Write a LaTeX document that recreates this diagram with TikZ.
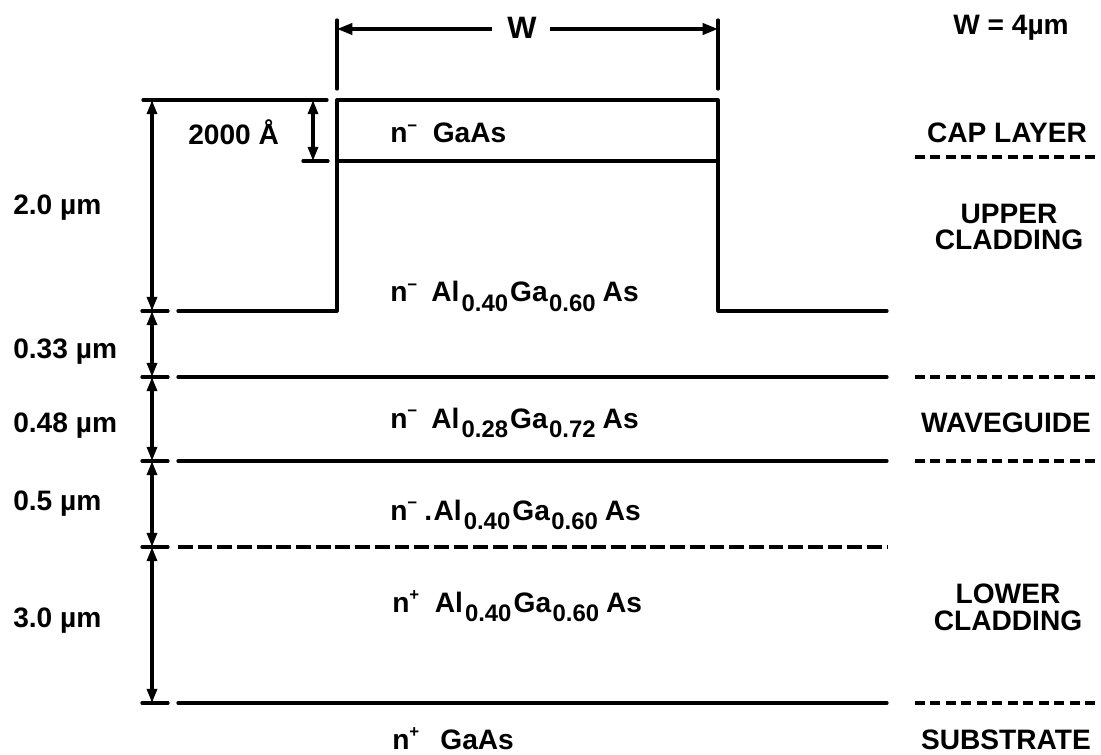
\documentclass[tikz,border=0pt]{standalone}
\usepackage{fontspec}
\setmainfont{Liberation Sans}
\usetikzlibrary{arrows.meta}
\newcommand\lsub[1]{\raisebox{-7pt}{\fontsize{17}{17}\selectfont #1}}
\newcommand\lsup[1]{\raisebox{8pt}{\fontsize{12}{12}\selectfont #1}}
\newcommand\nmin{n\lsup{−}}
\newcommand\nplus{n\lsup{+}}
\tikzset{
  lbl/.style={font=\fontsize{20}{19}\selectfont\bfseries, inner sep=0pt},
  ln/.style={line width=2.3pt, line cap=round, line join=round},
  rdash/.style={line width=2.3pt, line cap=butt, dash pattern=on 7pt off 4pt},
  mdash/.style={line width=2.3pt, line cap=butt, dash pattern=on 10.5pt off 3.5pt},
  dimarr/.style={line width=2.4pt, {Triangle[length=10pt,width=7pt]}-{Triangle[length=10pt,width=7pt]}},
  wtip/.style={line width=2.4pt, -{Triangle[length=11pt,width=8pt]}},
}
\begin{document}
\begin{tikzpicture}[x=0.025cm,y=-0.025cm]
\useasboundingbox (0,0) rectangle (1101,755);

% level coordinates
\coordinate (tl) at (143,100);   \coordinate (tr) at (327,100);
\coordinate (gl) at (178,311);   \coordinate (rl) at (337,311);
\coordinate (rtl) at (337,100);  \coordinate (rtr) at (718,100);
\coordinate (rr) at (718,311);   \coordinate (gr) at (887,311);
\coordinate (cbl) at (337,161);  \coordinate (cbr) at (718,161);

% ridge and cap
\draw[ln] (tl) -- (tr);
\draw[ln] (gl) -- (rl) -- (rtl) -- (rtr) -- (rr) -- (gr);
\draw[ln] (cbl) -- (cbr);

% layer lines
\coordinate (a1) at (178,377); \coordinate (a2) at (887,377);
\coordinate (b1) at (178,461); \coordinate (b2) at (887,461);
\coordinate (c1) at (178,547); \coordinate (c2) at (887,547);
\coordinate (d1) at (178,703); \coordinate (d2) at (887,703);
\draw[ln] (a1) -- (a2);
\draw[ln] (b1) -- (b2);
\draw[mdash] (c1) -- (c2);
\draw[ln] (d1) -- (d2);

% left ticks
\foreach \y in {311,377,461,547,703}{
  \draw[ln] (142,\y) -- (168,\y);
}
% dimension arrows
\coordinate (v0) at (152,100);
\coordinate (v1) at (152,311);
\coordinate (v2) at (152,377);
\coordinate (v3) at (152,461);
\coordinate (v4) at (152,547);
\coordinate (v5) at (152,703);
\draw[dimarr] (v0) -- (v1);
\draw[dimarr] (v1) -- (v2);
\draw[dimarr] (v2) -- (v3);
\draw[dimarr] (v3) -- (v4);
\draw[dimarr] (v4) -- (v5);

% 2000 A dimension
\coordinate (s0) at (313,100); \coordinate (s1) at (313,161);
\draw[ln] (303,161) -- (328,161);
\draw[dimarr] (s0) -- (s1);

% W dimension
\coordinate (wl0) at (337,20); \coordinate (wl1) at (337,89);
\coordinate (wr0) at (718,20); \coordinate (wr1) at (718,89);
\draw[ln] (wl0) -- (wl1);
\draw[ln] (wr0) -- (wr1);
\node[lbl, font=\fontsize{22}{22}\selectfont\bfseries] (W) at (522,28) {W};
\coordinate (wa) at (337,29); \coordinate (wb) at (718,29);
\draw[wtip] ([xshift=-11pt]W.west|-wa) -- (wa);
\draw[wtip] ([xshift=9pt]W.east|-wb) -- (wb);

% right dashed lines
\draw[rdash] (915,157) -- (1095,157);
\draw[rdash] (915,377) -- (1095,377);
\draw[rdash] (915,461) -- (1095,461);
\draw[rdash] (915,703) -- (1095,703);

% left labels
\node[lbl, anchor=base west] (l20) at (13,215) {2.0 µm};
\node[lbl, anchor=base west] (l033) at (13,358) {0.33 µm};
\node[lbl, anchor=base west] (l048) at (13,433) {0.48 µm};
\node[lbl, anchor=base west] (l05) at (13,510) {0.5 µm};
\node[lbl, anchor=base west] (l30) at (13,627) {3.0 µm};
\node[lbl, anchor=base west] (l2000) at (188,145) {2000 Å};

% center labels
\node[lbl, anchor=base west] (m0) at (390,143) {\nmin\hspace{11pt}GaAs};
\node[lbl, anchor=base west] (m1) at (390,302) {\nmin\hspace{10pt}Al\hspace{1.5pt}\lsub{0.40}\hspace{1.5pt}Ga\hspace{1pt}\lsub{0.60}\hspace{5pt}As};
\node[lbl, anchor=base west] (m2) at (390,428) {\nmin\hspace{10pt}Al\hspace{1.5pt}\lsub{0.28}\hspace{1.5pt}Ga\hspace{1pt}\lsub{0.72}\hspace{5pt}As};
\node[lbl, anchor=base west] (m3) at (390,520) {\nmin\hspace{5pt}.\hspace{1pt}Al\hspace{1.5pt}\lsub{0.40}\hspace{1.5pt}Ga\hspace{1pt}\lsub{0.60}\hspace{5pt}As};
\node[lbl, anchor=base west] (m4) at (392,612) {\nplus\hspace{11pt}Al\hspace{1.5pt}\lsub{0.40}\hspace{1.5pt}Ga\hspace{1pt}\lsub{0.60}\hspace{5pt}As};
\node[lbl, anchor=base west] (m5) at (392,749) {\nplus\hspace{15pt}GaAs};

% right labels
\node[lbl] (wval) at (1011,28) {W = 4µm};
\node[lbl, anchor=base] (cap) at (1007,143) {CAP LAYER};
\node[lbl, align=center] (upc) at (1009,227) {UPPER\\CLADDING};
\node[lbl, anchor=base] (wg) at (1006,433) {WAVEGUIDE};
\node[lbl, align=center] (loc) at (1008,607) {LOWER\\CLADDING};
\node[lbl, anchor=base] (sub) at (1006,749) {SUBSTRATE};
\end{tikzpicture}
\end{document}
